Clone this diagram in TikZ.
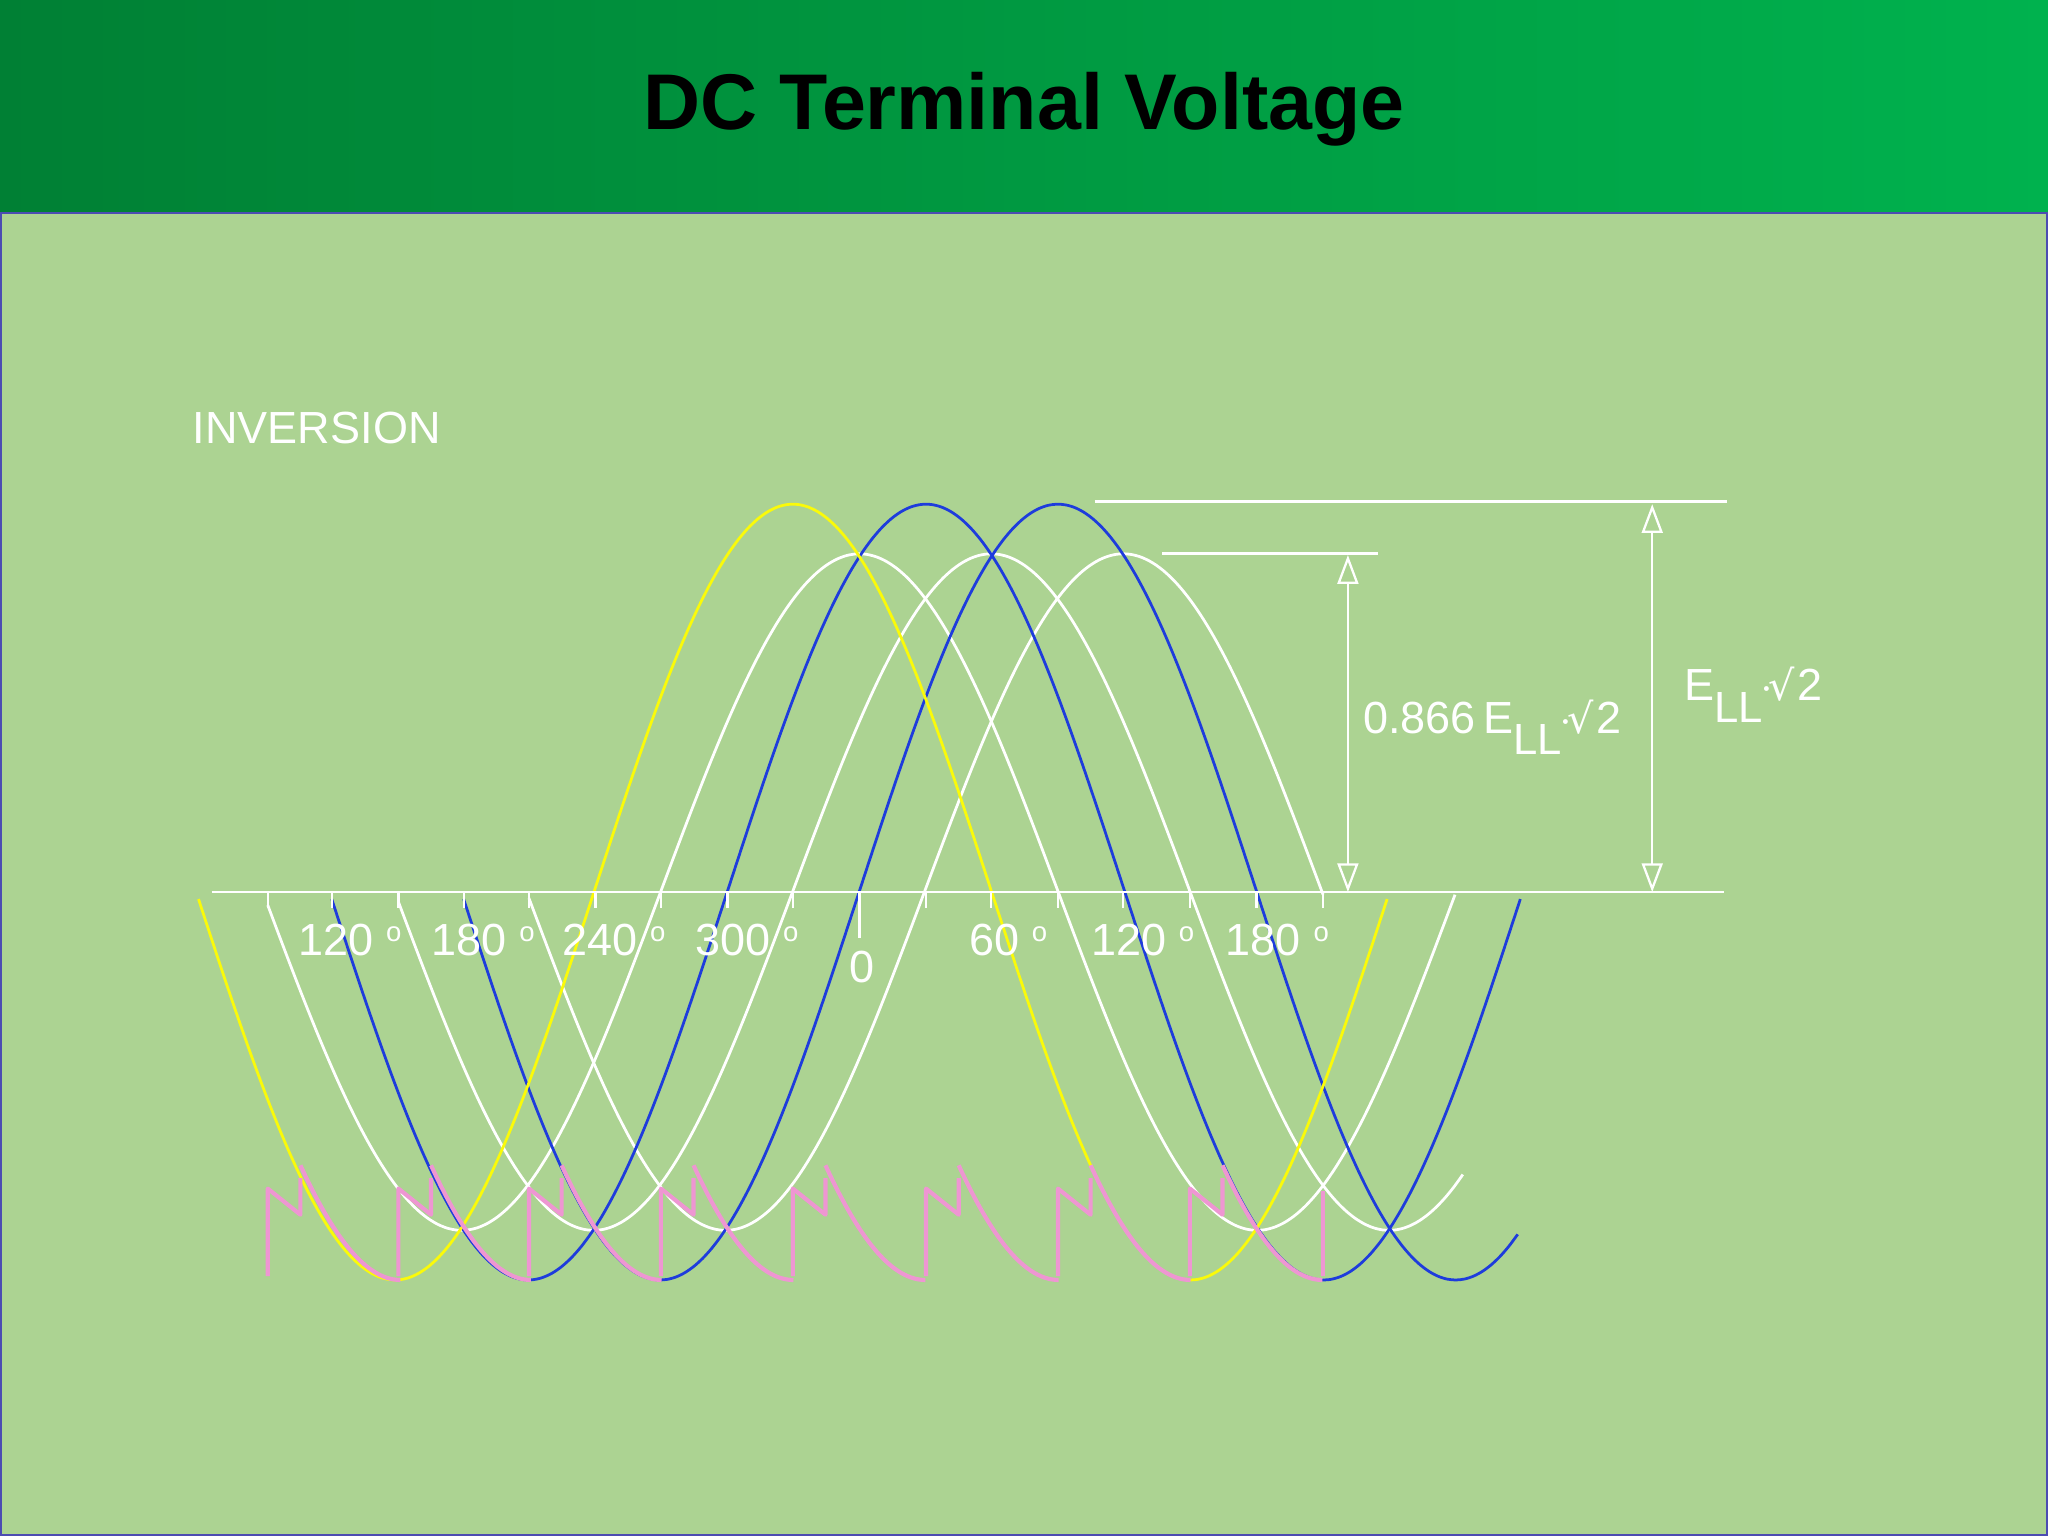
\documentclass[tikz,border=0pt]{standalone}
\usepackage{fontspec}
\setmainfont{Liberation Sans}
\newfontfamily\djv{DejaVu Sans}
\usetikzlibrary{arrows.meta}
\definecolor{bg}{RGB}{172,211,146}
\definecolor{hdA}{RGB}{0,128,52}
\definecolor{hdB}{RGB}{0,178,78}
\definecolor{wyel}{RGB}{250,250,10}
\definecolor{wblue}{RGB}{30,60,220}
\definecolor{wpink}{RGB}{238,150,210}
\tikzset{
  wave/.style={line width=0.6pt},
  pinkline/.style={wpink,line width=0.9pt,line join=round},
  lbl/.style={white,font=\fontsize{9.8}{12}\selectfont,inner sep=0pt},
  dimarrow/.style={white,line width=0.5pt,{Triangle[open,length=0.22cm,width=0.16cm]}-{Triangle[open,length=0.22cm,width=0.16cm]}},
}
\newcommand{\wv}[5]{\draw[wave,#1,domain=#3:#4,samples=120,smooth] plot (\x,{683-#5*cos(((\x-#2)/609)*360)});}
\newcommand{\myELL}{E\raisebox{-0.9ex}{\fontsize{9.5}{10}\selectfont LL}\kern-0.5pt$\cdot$\kern-1pt{\djv\fontsize{9}{10}\selectfont √}\kern0.5pt 2}
\begin{document}
\begin{tikzpicture}[x=0.01cm,y=-0.01cm]
\useasboundingbox (0,0) rectangle (1568,1176);
\fill[bg] (0,0) rectangle (1568,1176);
\shade[left color=hdA,right color=hdB] (0,0) rectangle (1568,163);
\draw[color=blue!40!gray,line width=0.4pt] (0.5,163) rectangle (1567.5,1175.5);
\node (title) at (784,84) {\fontsize{17.2}{20}\selectfont\bfseries DC Terminal Voltage};
\node[lbl,anchor=west] (inv) at (147,328) {INVERSION};
% waves
\wv{white}{658}{205}{1114}{259}
\wv{white}{759}{305}{1120}{259}
\wv{white}{860}{405}{1013}{259}
\wv{wblue}{709}{254}{1164}{297}
\wv{wblue}{810}{355}{1162}{297}
\wv{wyel}{607}{152}{1062}{297}
% pink sawtooth
\foreach \xo in {205,305,405,506,607,709,810,911}{
  \draw[pinkline] (\xo,977) -- (\xo,910) -- (\xo+25,930) -- (\xo+25,902);
  \draw[pinkline,domain=\xo+25:\xo+101.5,samples=30,smooth] plot (\x,{683-297*cos(((\x-\xo-101.5-304.5)/609)*360)});
}
\draw[pinkline] (1013,977) -- (1013,912);
% axis and ticks
\coordinate (axL) at (162,683);
\coordinate (axR) at (1320,683);
\draw[white,line width=0.6pt] (axL) -- (axR);
\foreach \t in {205,254,305,355,405,456,506,557,607,709,759,810,860,911,962,1013}
  \draw[white,line width=0.5pt] (\t,683) -- (\t,695);
\draw[white,line width=0.5pt] (658,683) -- (658,718);
\node[lbl] (l1) at (268,720) {120 \raisebox{0.6ex}{\fontsize{6}{7}\selectfont o}};
\node[lbl] (l2) at (370,720) {180 \raisebox{0.6ex}{\fontsize{6}{7}\selectfont o}};
\node[lbl] (l3) at (470,720) {240 \raisebox{0.6ex}{\fontsize{6}{7}\selectfont o}};
\node[lbl] (l4) at (572,720) {300 \raisebox{0.6ex}{\fontsize{6}{7}\selectfont o}};
\node[lbl] (l0) at (660,740) {0};
\node[lbl] (l5) at (772,720) {60 \raisebox{0.6ex}{\fontsize{6}{7}\selectfont o}};
\node[lbl] (l6) at (875,720) {120 \raisebox{0.6ex}{\fontsize{6}{7}\selectfont o}};
\node[lbl] (l7) at (978,720) {180 \raisebox{0.6ex}{\fontsize{6}{7}\selectfont o}};
% dimension lines
\coordinate (t1a) at (838,384); \coordinate (t1b) at (1322,384);
\coordinate (t2a) at (890,424); \coordinate (t2b) at (1055,424);
\draw[white,line width=0.6pt] (t1a) -- (t1b);
\draw[white,line width=0.6pt] (t2a) -- (t2b);
\coordinate (a1t) at (1265,386); \coordinate (a1b) at (1265,683);
\coordinate (a2t) at (1032,425); \coordinate (a2b) at (1032,683);
\draw[dimarrow] (a1t) -- (a1b);
\draw[dimarrow] (a2t) -- (a2b);
\node[lbl,anchor=west] (e1) at (1289,532) {\myELL};
\node[lbl,anchor=west] (e2) at (1043,557) {0.866\,\myELL};
\end{tikzpicture}
\end{document}
